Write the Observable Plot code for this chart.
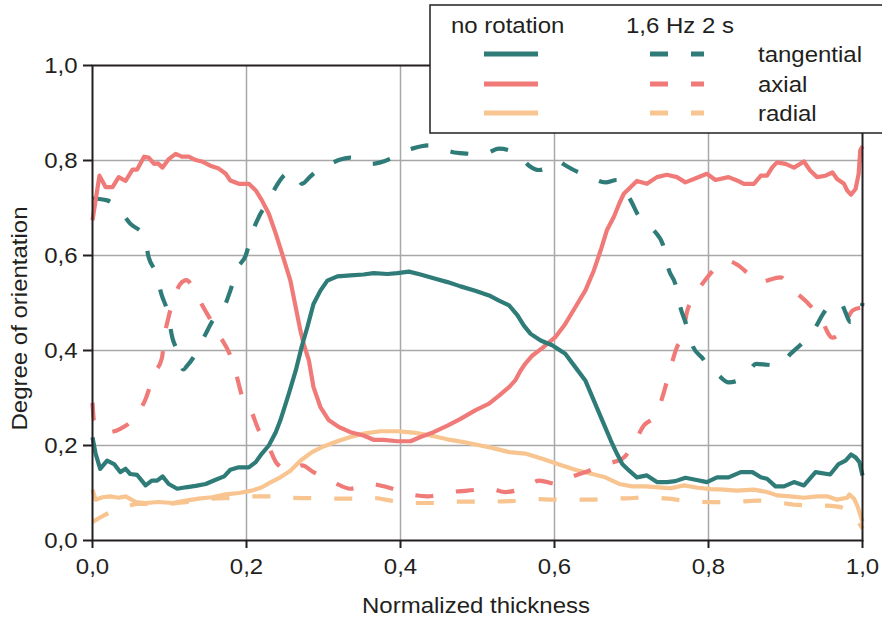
<!DOCTYPE html>
<html>
<head>
<meta charset="utf-8">
<script src="https://cdn.jsdelivr.net/npm/d3@7"></script>
<script src="https://cdn.jsdelivr.net/npm/@observablehq/plot@0.6"></script>
<style>
  html, body { margin: 0; padding: 0; background: #fff; }
  #chart { width: 882px; height: 619px; }
</style>
</head>
<body>
<div id="chart"></div>
<script>
// ---- data ----
const tickValues = [0, 0.2, 0.4, 0.6, 0.8, 1.0];
const tickLabels = ["0,0", "0,2", "0,4", "0,6", "0,8", "1,0"];
const gridValues = [0.2, 0.4, 0.6, 0.8];

const seriesNames = ["tangential", "axial", "radial"];
const conditionNames = ["no rotation", "1,6 Hz 2 s"];

const tangentialNoRotation = [[0,0.217],[0.004,0.183],[0.010,0.151],[0.019,0.168],[0.028,0.161],[0.036,0.144],[0.043,0.151],[0.049,0.140],[0.058,0.138],[0.069,0.116],[0.077,0.126],[0.084,0.126],[0.091,0.135],[0.099,0.119],[0.110,0.109],[0.121,0.112],[0.134,0.115],[0.147,0.119],[0.160,0.128],[0.171,0.135],[0.179,0.149],[0.190,0.154],[0.203,0.154],[0.212,0.165],[0.220,0.183],[0.229,0.2],[0.238,0.228],[0.244,0.253],[0.255,0.309],[0.264,0.358],[0.272,0.41],[0.279,0.449],[0.287,0.498],[0.296,0.526],[0.305,0.547],[0.318,0.556],[0.335,0.558],[0.352,0.560],[0.365,0.563],[0.383,0.561],[0.396,0.563],[0.411,0.566],[0.426,0.560],[0.443,0.552],[0.461,0.544],[0.478,0.535],[0.497,0.526],[0.515,0.516],[0.528,0.505],[0.541,0.495],[0.552,0.474],[0.560,0.453],[0.569,0.435],[0.582,0.421],[0.597,0.411],[0.614,0.393],[0.627,0.365],[0.640,0.337],[0.651,0.295],[0.662,0.253],[0.673,0.211],[0.681,0.183],[0.688,0.161],[0.697,0.147],[0.707,0.133],[0.720,0.137],[0.733,0.123],[0.746,0.123],[0.757,0.125],[0.770,0.132],[0.783,0.128],[0.798,0.123],[0.811,0.133],[0.826,0.133],[0.842,0.144],[0.857,0.144],[0.868,0.133],[0.876,0.130],[0.887,0.114],[0.898,0.114],[0.911,0.123],[0.924,0.116],[0.939,0.144],[0.958,0.139],[0.969,0.161],[0.978,0.168],[0.985,0.181],[0.991,0.175],[0.996,0.165],[1.0,0.137]];

const axialNoRotation = [[0,0.674],[0.009,0.768],[0.017,0.744],[0.026,0.744],[0.034,0.765],[0.043,0.757],[0.052,0.781],[0.058,0.781],[0.067,0.808],[0.073,0.806],[0.080,0.793],[0.085,0.794],[0.091,0.785],[0.099,0.803],[0.108,0.814],[0.116,0.808],[0.125,0.808],[0.134,0.801],[0.142,0.798],[0.153,0.789],[0.164,0.783],[0.173,0.772],[0.179,0.758],[0.19,0.751],[0.203,0.751],[0.212,0.737],[0.22,0.716],[0.229,0.688],[0.238,0.646],[0.246,0.605],[0.257,0.547],[0.27,0.442],[0.274,0.415],[0.281,0.379],[0.287,0.323],[0.296,0.281],[0.307,0.253],[0.32,0.239],[0.335,0.228],[0.352,0.221],[0.365,0.212],[0.378,0.212],[0.396,0.209],[0.413,0.209],[0.426,0.218],[0.443,0.228],[0.461,0.242],[0.478,0.256],[0.497,0.274],[0.515,0.288],[0.528,0.305],[0.541,0.323],[0.549,0.337],[0.556,0.358],[0.562,0.372],[0.571,0.389],[0.584,0.405],[0.601,0.428],[0.614,0.456],[0.627,0.491],[0.640,0.526],[0.651,0.568],[0.660,0.611],[0.668,0.653],[0.677,0.681],[0.684,0.709],[0.690,0.730],[0.699,0.744],[0.707,0.757],[0.720,0.751],[0.733,0.765],[0.746,0.770],[0.759,0.765],[0.770,0.754],[0.781,0.761],[0.798,0.772],[0.809,0.759],[0.826,0.765],[0.837,0.758],[0.846,0.751],[0.859,0.751],[0.868,0.768],[0.876,0.768],[0.883,0.786],[0.889,0.796],[0.9,0.793],[0.911,0.785],[0.924,0.798],[0.932,0.779],[0.941,0.765],[0.952,0.768],[0.961,0.775],[0.967,0.761],[0.976,0.751],[0.980,0.737],[0.985,0.728],[0.991,0.740],[0.995,0.772],[0.997,0.821],[1.0,0.83]];

const radialNoRotation = [[0,0.107],[0.004,0.086],[0.013,0.091],[0.023,0.093],[0.034,0.090],[0.043,0.093],[0.056,0.081],[0.069,0.079],[0.086,0.081],[0.104,0.079],[0.121,0.084],[0.138,0.088],[0.155,0.091],[0.173,0.097],[0.190,0.100],[0.207,0.105],[0.220,0.112],[0.233,0.124],[0.244,0.133],[0.257,0.147],[0.270,0.168],[0.285,0.186],[0.300,0.198],[0.318,0.209],[0.335,0.218],[0.352,0.225],[0.374,0.230],[0.396,0.230],[0.417,0.227],[0.439,0.221],[0.461,0.213],[0.482,0.207],[0.504,0.2],[0.519,0.195],[0.541,0.186],[0.562,0.183],[0.584,0.172],[0.606,0.160],[0.627,0.149],[0.649,0.140],[0.666,0.133],[0.684,0.119],[0.701,0.114],[0.718,0.114],[0.735,0.112],[0.751,0.110],[0.768,0.116],[0.786,0.111],[0.803,0.108],[0.820,0.107],[0.837,0.105],[0.859,0.107],[0.876,0.102],[0.889,0.095],[0.906,0.093],[0.924,0.090],[0.941,0.093],[0.954,0.093],[0.967,0.086],[0.980,0.090],[0.983,0.097],[0.989,0.088],[0.994,0.070],[1.0,0.04]];

const tangential16Hz = [[0,0.72],[0.019,0.716],[0.034,0.698],[0.049,0.667],[0.067,0.642],[0.073,0.596],[0.082,0.565],[0.090,0.516],[0.097,0.484],[0.104,0.425],[0.110,0.40],[0.118,0.36],[0.123,0.368],[0.134,0.393],[0.147,0.435],[0.155,0.46],[0.171,0.491],[0.179,0.526],[0.188,0.572],[0.199,0.6],[0.207,0.646],[0.216,0.681],[0.229,0.716],[0.238,0.744],[0.25,0.77],[0.261,0.776],[0.272,0.751],[0.282,0.765],[0.292,0.779],[0.309,0.793],[0.322,0.802],[0.335,0.806],[0.352,0.795],[0.363,0.793],[0.374,0.796],[0.391,0.807],[0.403,0.818],[0.415,0.825],[0.437,0.832],[0.452,0.825],[0.467,0.818],[0.489,0.814],[0.5,0.812],[0.51,0.814],[0.528,0.825],[0.54,0.822],[0.554,0.811],[0.567,0.789],[0.58,0.780],[0.591,0.785],[0.603,0.799],[0.614,0.790],[0.625,0.780],[0.645,0.766],[0.666,0.754],[0.681,0.759],[0.690,0.74],[0.699,0.716],[0.709,0.684],[0.719,0.668],[0.729,0.653],[0.742,0.617],[0.748,0.572],[0.757,0.540],[0.764,0.488],[0.770,0.460],[0.779,0.411],[0.793,0.382],[0.80,0.365],[0.811,0.351],[0.826,0.333],[0.835,0.335],[0.848,0.347],[0.862,0.372],[0.876,0.37],[0.891,0.368],[0.906,0.392],[0.926,0.423],[0.939,0.449],[0.948,0.475],[0.958,0.495],[0.971,0.502],[0.978,0.48],[0.984,0.46],[0.995,0.463],[1.0,0.5]];

const axial16Hz = [[0,0.29],[0.002,0.253],[0.021,0.228],[0.036,0.235],[0.06,0.270],[0.069,0.298],[0.080,0.351],[0.09,0.383],[0.094,0.435],[0.098,0.465],[0.107,0.516],[0.114,0.540],[0.122,0.548],[0.132,0.528],[0.142,0.497],[0.155,0.46],[0.164,0.434],[0.179,0.389],[0.186,0.354],[0.194,0.305],[0.205,0.277],[0.216,0.232],[0.227,0.204],[0.240,0.161],[0.257,0.147],[0.272,0.158],[0.287,0.144],[0.313,0.123],[0.335,0.109],[0.361,0.119],[0.383,0.112],[0.413,0.097],[0.435,0.093],[0.465,0.102],[0.487,0.105],[0.517,0.109],[0.536,0.102],[0.562,0.112],[0.580,0.126],[0.603,0.119],[0.621,0.133],[0.645,0.147],[0.664,0.160],[0.688,0.172],[0.701,0.198],[0.716,0.242],[0.731,0.263],[0.742,0.312],[0.748,0.347],[0.759,0.407],[0.766,0.428],[0.772,0.481],[0.780,0.509],[0.797,0.551],[0.811,0.576],[0.826,0.588],[0.838,0.58],[0.852,0.561],[0.865,0.544],[0.894,0.554],[0.906,0.533],[0.930,0.498],[0.945,0.470],[0.961,0.427],[0.972,0.439],[0.987,0.484],[0.997,0.490]];

const radial16Hz = [[0,0.039],[0.015,0.053],[0.041,0.070],[0.06,0.077],[0.093,0.077],[0.110,0.079],[0.138,0.084],[0.155,0.088],[0.186,0.090],[0.203,0.093],[0.238,0.093],[0.257,0.090],[0.290,0.089],[0.309,0.088],[0.339,0.088],[0.361,0.090],[0.391,0.083],[0.411,0.079],[0.443,0.079],[0.465,0.082],[0.497,0.082],[0.517,0.082],[0.545,0.083],[0.567,0.088],[0.597,0.086],[0.616,0.086],[0.647,0.086],[0.668,0.088],[0.699,0.089],[0.718,0.091],[0.748,0.088],[0.768,0.084],[0.803,0.081],[0.831,0.081],[0.863,0.084],[0.883,0.082],[0.915,0.075],[0.937,0.074],[0.965,0.072],[0.982,0.063],[1.0,0.025]];

// ---- styles ----
const colors = {tangential: "#2e7b78", axial: "#f07a77", radial: "#f8c48f"};
const dash = "18,23";
const ink = "#231f20";
const fmt = d => tickLabels[tickValues.findIndex(v => Math.abs(v - d) < 1e-9)];

const lineOpts = (color, dashed) => ({
  x: d => d[0], y: d => d[1], stroke: color, strokeWidth: 4.2,
  strokeDasharray: dashed ? dash : null, curve: dashed ? "monotone-x" : "linear",
  strokeLinejoin: "round", strokeLinecap: "butt"
});

const chart = Plot.plot({
  width: 882, height: 619,
  marginLeft: 92, marginRight: 20, marginTop: 65, marginBottom: 79,
  style: {fontFamily: "'Liberation Sans', Arial, sans-serif", fontSize: "22px", color: ink, background: "#fff"},
  x: {domain: [0, 1]},
  y: {domain: [0, 1]},
  marks: [
    Plot.gridX(gridValues, {stroke: "#a8a8a8", strokeOpacity: 1, strokeWidth: 1.5}),
    Plot.gridY(gridValues, {stroke: "#a8a8a8", strokeOpacity: 1, strokeWidth: 1.5}),
    Plot.line(radial16Hz, lineOpts(colors.radial, true)),
    Plot.line(radialNoRotation, lineOpts(colors.radial, false)),
    Plot.line(axial16Hz, lineOpts(colors.axial, true)),
    Plot.line(tangential16Hz, lineOpts(colors.tangential, true)),
    Plot.line(axialNoRotation, lineOpts(colors.axial, false)),
    Plot.line(tangentialNoRotation, lineOpts(colors.tangential, false)),
    Plot.frame({stroke: ink, strokeWidth: 2}),
    Plot.axisX(tickValues, {tickSize: 8, tickPadding: 10, tickFormat: fmt, label: null, strokeWidth: 2, fill: ink, stroke: ink}),
    Plot.axisY(tickValues, {tickSize: 9, tickPadding: 6, tickFormat: fmt, label: null, strokeWidth: 2, fill: ink, stroke: ink})
  ]
});

document.getElementById("chart").appendChild(chart);

// ---- axis titles and legend ----
const svg = d3.select(chart);
const font = "'Liberation Sans', Arial, sans-serif";
const addText = (sel, str, anchor) => sel.append("text").attr("fill", ink).attr("text-anchor", anchor)
  .style("font-family", font).style("font-size", "22px").text(str);

addText(svg, "Normalized thickness", "middle").attr("x", 476).attr("y", 613);
addText(svg, "Degree of orientation", "middle").attr("transform", "translate(27,318.5) rotate(-90)");

const lg = svg.append("g");
lg.append("rect").attr("x", 430).attr("y", 5).attr("width", 470).attr("height", 128)
  .attr("fill", "#fff").attr("stroke", ink).attr("stroke-width", 1.5);
addText(lg, conditionNames[0], "start").attr("x", 451).attr("y", 33);
addText(lg, conditionNames[1], "start").attr("x", 626).attr("y", 33);
const rowY = [54, 84, 113];
seriesNames.forEach((name, i) => {
  lg.append("line").attr("x1", 484).attr("x2", 538).attr("y1", rowY[i]).attr("y2", rowY[i])
    .attr("stroke", colors[name]).attr("stroke-width", 5);
  lg.append("line").attr("x1", 650).attr("x2", 704).attr("y1", rowY[i]).attr("y2", rowY[i])
    .attr("stroke", colors[name]).attr("stroke-width", 5).attr("stroke-dasharray", dash);
  addText(lg, name, "start").attr("x", 758).attr("y", rowY[i] + 8);
});

// widen glyphs slightly to match the reference's wide lettering
chart.querySelectorAll("text").forEach(t => {
  if (t.querySelector("tspan")) return;
  const L = t.getComputedTextLength();
  if (L > 0) {
    t.setAttribute("textLength", (L * 1.09).toFixed(2));
    t.setAttribute("lengthAdjust", "spacingAndGlyphs");
  }
});
</script>
</body>
</html>
